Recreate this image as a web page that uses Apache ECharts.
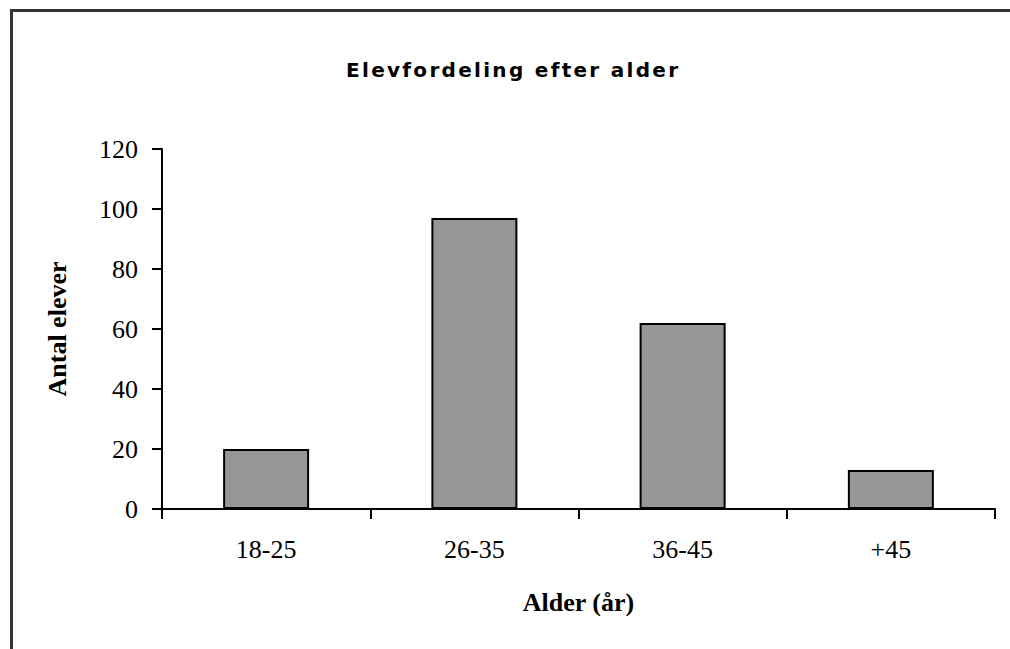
<!DOCTYPE html>
<html>
<head>
<meta charset="utf-8">
<script src="https://cdn.jsdelivr.net/npm/echarts@6/dist/echarts.min.js"></script>
<style>
  html, body { margin: 0; padding: 0; background: #fff; }
  #chart { width: 1010px; height: 649px; }
</style>
</head>
<body>
<div id="chart"></div>
<script>
const titleText = 'Elevfordeling efter alder';
const categories = ['18-25', '26-35', '36-45', '+45'];
const values = [20, 97, 62, 13];
const yTicks = { min: 0, max: 120, interval: 20 };
const xName = 'Alder (år)';
const yName = 'Antal elever';

const serif = '"Liberation Serif", "Times New Roman", serif';
const chart = echarts.init(document.getElementById('chart'), null, { renderer: 'svg' });

chart.setOption({
  backgroundColor: '#fff',
  animation: false,
  grid: { left: 162, right: 15, top: 149, bottom: 140, containLabel: false },
  graphic: [
    { type: 'line', shape: { x1: 10, y1: 10.5, x2: 1010, y2: 10.5 }, style: { stroke: '#333', lineWidth: 3 } },
    { type: 'line', shape: { x1: 11.5, y1: 9, x2: 11.5, y2: 649 }, style: { stroke: '#333', lineWidth: 3 } },
    { type: 'text', id: 'ttl', x: 512, y: 70, style: {
        text: titleText, fill: '#000', align: 'center', verticalAlign: 'middle',
        fontSize: 20, fontWeight: 'bold', fontFamily: '"DejaVu Sans", sans-serif' } }
  ],
  xAxis: {
    type: 'category',
    data: categories,
    boundaryGap: true,
    name: xName,
    nameLocation: 'middle',
    nameGap: 80,
    nameTextStyle: { fontFamily: serif, fontWeight: 'bold', fontSize: 26, color: '#000' },
    axisLine: { show: true, lineStyle: { color: '#000', width: 2 } },
    axisTick: { show: true, alignWithLabel: false, length: 10, lineStyle: { color: '#000', width: 2 } },
    axisLabel: { fontFamily: serif, fontSize: 26, color: '#000', margin: 27 },
    splitLine: { show: false }
  },
  yAxis: {
    type: 'value',
    min: yTicks.min, max: yTicks.max, interval: yTicks.interval,
    name: yName,
    nameLocation: 'middle',
    nameRotate: 90,
    nameGap: 92,
    nameTextStyle: { fontFamily: serif, fontWeight: 'bold', fontSize: 26, color: '#000' },
    axisLine: { show: true, lineStyle: { color: '#000', width: 2 } },
    axisTick: { show: true, length: 10, lineStyle: { color: '#000', width: 2 } },
    axisLabel: { fontFamily: serif, fontSize: 26, color: '#000', margin: 24 },
    splitLine: { show: false }
  },
  series: [{
    type: 'bar',
    data: values,
    barWidth: 86,
    itemStyle: { color: '#969696', borderColor: '#000', borderWidth: 2 }
  }]
});

function spaceTitle() {
  document.querySelectorAll('#chart svg text').forEach(t => {
    if (t.textContent === titleText) {
      t.style.letterSpacing = '2.3px';
      t.setAttribute('dx', '1.2');
    }
  });
}
chart.on('finished', spaceTitle);
spaceTitle();
</script>
</body>
</html>
